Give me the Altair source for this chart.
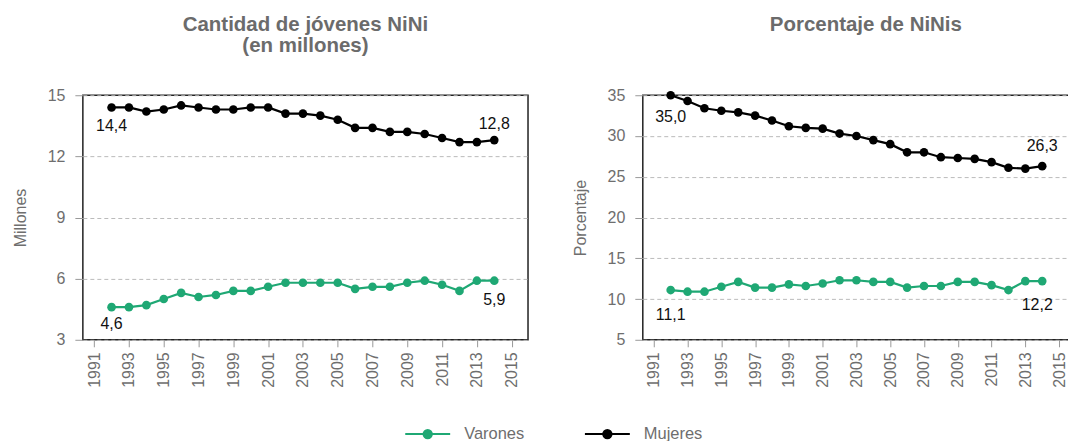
import altair as alt
import pandas as pd

# ---------------- data ----------------
years = list(range(1992, 2015))
cant_varones = [4.6, 4.6, 4.7, 5.0, 5.3, 5.1, 5.2, 5.4, 5.4, 5.6, 5.8, 5.8, 5.8, 5.8,
                5.5, 5.6, 5.6, 5.8, 5.9, 5.7, 5.4, 5.9, 5.9]
cant_mujeres = [14.4, 14.4, 14.2, 14.3, 14.5, 14.4, 14.3, 14.3, 14.4, 14.4, 14.1, 14.1,
                14.0, 13.8, 13.4, 13.4, 13.2, 13.2, 13.1, 12.9, 12.7, 12.7, 12.8]
pct_varones = [11.1, 10.9, 10.9, 11.5, 12.1, 11.4, 11.4, 11.8, 11.6, 11.9, 12.3, 12.3,
               12.1, 12.1, 11.4, 11.6, 11.6, 12.1, 12.1, 11.7, 11.1, 12.2, 12.2]
pct_mujeres = [35.0, 34.3, 33.4, 33.1, 32.9, 32.5, 31.9, 31.2, 31.0, 30.9, 30.3, 30.0,
               29.5, 29.0, 28.0, 28.0, 27.4, 27.3, 27.2, 26.8, 26.1, 26.0, 26.3]
x_ticks = list(range(1991, 2016, 2))
cant_ticks = [3, 6, 9, 12, 15]
pct_ticks = [5, 10, 15, 20, 25, 30, 35]
series = ["Varones", "Mujeres"]
colors = ["#1fa874", "#000000"]

FONT = "Liberation Sans, Arial, Helvetica, sans-serif"
GRAY = "#6e6e6e"
FRAME = "#222222"

LEGEND_PATH = "M-3,0H3M0.56,0A0.56,0.56,0,1,1,-0.56,0A0.56,0.56,0,1,1,0.56,0Z"


def fmt(v):
    return f"{v:.1f}".replace(".", ",")


def long_df(varones, mujeres):
    rows = []
    for yr, v in zip(years, varones):
        rows.append({"year": yr, "value": v, "serie": "Varones", "label": fmt(v)})
    for yr, v in zip(years, mujeres):
        rows.append({"year": yr, "value": v, "serie": "Mujeres", "label": fmt(v)})
    return pd.DataFrame(rows)


legend = alt.Legend(
    title=None, orient="none", direction="horizontal",
    legendX=337, legendY=331,
    symbolType=LEGEND_PATH, symbolSize=225, symbolStrokeWidth=2, symbolOpacity=1,
    labelFont=FONT, labelFontSize=16.5, labelColor=GRAY, labelOffset=28,
    columnPadding=56,
)


def panel(df, width, ydom, yticks, ytitle, title, title_dx, labels, show_legend):
    x = alt.X("year:Q",
              scale=alt.Scale(domain=[1990.35, 2015.94], nice=False, zero=False),
              axis=alt.Axis(values=x_ticks, format="d", labelAngle=-90, title=None,
                            grid=False, tickSize=7, labelPadding=5, domain=False))
    y = alt.Y("value:Q",
              scale=alt.Scale(domain=ydom, nice=False, zero=False),
              axis=alt.Axis(values=yticks, title=ytitle, grid=True, gridDash=[4, 3],
                            gridColor="#bbbbbb", tickSize=8, labelPadding=10,
                            titlePadding=19, domain=False))
    cscale = alt.Scale(domain=series, range=colors)
    leg = legend if show_legend else None
    line = alt.Chart(df).mark_line(strokeWidth=2.2).encode(
        x=x, y=y, color=alt.Color("serie:N", scale=cscale, legend=leg))
    pts = alt.Chart(df).mark_circle(size=75, opacity=1).encode(
        x=x, y=y, color=alt.Color("serie:N", scale=cscale, legend=leg))
    layers = [line, pts]
    for serie, year, dx, dy in labels:
        layers.append(
            alt.Chart(df)
            .transform_filter((alt.datum.serie == serie) & (alt.datum.year == year))
            .mark_text(dx=dx, dy=dy, font=FONT, fontSize=16, color="#111111")
            .encode(x=x, y=y, text="label:N"))
    return alt.layer(*layers).properties(
        width=width, height=245, title=alt.Title(title, frame="group", dx=title_dx))


left = panel(long_df(cant_varones, cant_mujeres), 446, [3, 15], cant_ticks, "Millones",
             ["Cantidad de jóvenes NiNi", "(en millones)"], 0,
             [("Mujeres", 1992, 0, 19), ("Mujeres", 2014, 0, -16),
              ("Varones", 1992, 0, 17), ("Varones", 2014, 0, 19)], True)
right = panel(long_df(pct_varones, pct_mujeres), 433, [5, 35], pct_ticks, "Porcentaje",
              ["Porcentaje de NiNis", ""], 7,
              [("Mujeres", 1992, 0, 22), ("Mujeres", 2014, 0, -20),
               ("Varones", 1992, 0, 25), ("Varones", 2014, -5, 24)], False)

# the right panel runs past the right edge of the picture in the reference:
# a negative right padding crops its frame the same way
chart = (
    alt.hconcat(left, right, spacing=42)
    .properties(padding={"left": 3, "top": 5, "right": -8, "bottom": 0})
    .configure_view(stroke=FRAME, strokeWidth=1.5)
    .configure_axis(labelFont=FONT, labelFontSize=16, labelColor=GRAY,
                    titleFont=FONT, titleFontSize=16, titleColor=GRAY,
                    titleFontWeight="normal", tickColor="#999999")
    .configure_title(font=FONT, fontSize=20.5, fontWeight="bold", color="#6b6b6b",
                     anchor="middle", offset=31, lineHeight=21)
)

chart.save("out.html", embed_options={"renderer": "svg", "actions": False})
